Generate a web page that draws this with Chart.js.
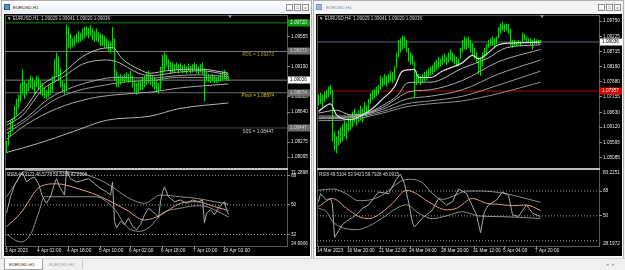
<!DOCTYPE html>
<html><head><meta charset="utf-8">
<script src="https://cdn.jsdelivr.net/npm/chart.js@4.4.0/dist/chart.umd.min.js"></script>
<style>
*{box-sizing:border-box}
html,body{margin:0;padding:0;width:625px;height:270px;overflow:hidden;background:#f0f0f0;font-family:"Liberation Sans",Arial,sans-serif}
.abs{position:absolute}
.win{position:absolute;top:0;height:259px;background:#f6f6f6;border:1px solid #b0b0b0}
.tb{position:absolute;top:1px;height:12px;background:linear-gradient(#ffffff,#e8eef7)}
.ttl{position:absolute;top:5px;font-size:4.4px;line-height:5px;white-space:nowrap}
.ico{position:absolute;top:4px;width:6px;height:6px;background:#5c8fcc;border:1px solid #2b5d99}
.btn{position:absolute;top:4px;width:7px;height:7px;border:1px solid #8c8c8c;background:#fbfbfb;font-size:4px;line-height:5px;text-align:center;color:#222}
.blk{position:absolute;top:14px;width:306px;height:242px;background:#000}
.frame{position:absolute;top:15px;width:283px;height:232px;border:1px solid #5a5a5a}
.sep{position:absolute;top:168px;width:283px;height:2px;background:#bdbdbd}
.hdr{position:absolute;font-size:4.5px;line-height:5px;color:#d8d8d8;white-space:nowrap}
.mark{position:absolute;top:15px;width:0;height:0;border-left:2px solid transparent;border-right:2px solid transparent;border-top:3px solid #9aa0b0}
canvas{position:absolute}
</style></head><body>

<div class="win" style="left:1px;width:311px"></div>
<div class="tb" style="left:2px;width:309px"></div>
<div class="ico" style="left:4px"></div>
<div class="ttl" style="left:13px;color:#1a1a1a">EURUSD,H1</div>
<div class="btn" style="left:286px">_</div>
<div class="btn" style="left:294px">□</div>
<div class="btn" style="left:302px">x</div>
<div class="blk" style="left:4px"></div>
<div class="frame" style="left:5px"></div>
<div class="sep" style="left:5px"></div>

<div class="win" style="left:313px;width:311px"></div>
<div class="tb" style="left:314px;width:309px;background:#f4f4f4"></div>
<div class="ico" style="left:316px;opacity:.6"></div>
<div class="ttl" style="left:326px;color:#8a8a8a">EURUSD,H4</div>
<div class="btn" style="left:598px">_</div>
<div class="btn" style="left:606px">□</div>
<div class="btn" style="left:614px">x</div>
<div class="blk" style="left:316px"></div>
<div class="frame" style="left:317px"></div>
<div class="sep" style="left:317px"></div>

<canvas id="lm" width="305" height="153" style="left:5px;top:15px"></canvas>
<canvas id="lr" width="305" height="86" style="left:5px;top:170px"></canvas>
<canvas id="rm" width="305" height="153" style="left:317px;top:15px"></canvas>
<canvas id="rr" width="305" height="86" style="left:317px;top:170px"></canvas>

<div class="hdr" style="left:7px;top:16px">▼ EURUSD,H1&nbsp; 1.09029 1.09041 1.09020 1.09036</div>
<div class="hdr" style="left:7px;top:172px">RSI8 44.3123 46.5778 50.5160 42.6308</div>
<div class="hdr" style="left:319px;top:16px">▼ EURUSD,H4&nbsp; 1.09029 1.09041 1.09020 1.09036</div>
<div class="hdr" style="left:319px;top:172px">RSI8 49.5104 53.9423 59.7928 48.0915</div>
<div class="mark" style="left:228px"></div>
<div class="mark" style="left:540px"></div>

<div class="abs" style="left:0;top:258px;width:625px;height:12px;background:#f0f0f0;border-top:1px solid #d4d4d4"></div>
<div class="abs" style="left:4px;top:259px;width:39px;height:11px;background:#fff;border:1px solid #a0a0a0;border-top:none"></div>
<div class="abs" style="left:9px;top:262px;font-size:4.4px;line-height:5px;color:#222">EURUSD,H1</div>
<div class="abs" style="left:49px;top:262px;font-size:4.4px;line-height:5px;color:#9a9a9a">EURUSD,H4</div>
<div class="abs" style="left:82px;top:260px;width:1px;height:9px;background:#c8c8c8"></div>
<div class="abs" style="left:606px;top:261px;font-size:5px;line-height:6px;color:#a0a0a0">◂&nbsp;&nbsp;▸</div>

<script>
// ---------------- DATA ----------------
const L_HIGH = [1.0829,1.0840,1.0854,1.0857,1.0872,1.0880,1.0885,1.0899,1.0916,1.0902,
1.0899,1.0903,1.0908,1.0906,1.0902,1.0908,1.0906,1.0902,1.0899,1.0894,
1.0891,1.0897,1.0899,1.0908,1.0928,1.0936,1.0931,1.0917,1.0902,1.0899,
1.0970,1.0967,1.0959,1.0953,1.0956,1.0959,1.0962,1.0960,1.0965,1.0967,
1.0968,1.0966,1.0969,1.0965,1.0962,1.0965,1.0961,1.0959,1.0958,1.0956,
1.0953,1.0951,1.0949,1.0967,1.0953,1.0914,1.0908,1.0910,1.0908,1.0910,
1.0912,1.0910,1.0914,1.0908,1.0902,1.0899,1.0901,1.0903,1.0906,1.0908,
1.0911,1.0914,1.0910,1.0908,1.0906,1.0902,1.0899,1.0919,1.0933,1.0936,
1.0933,1.0928,1.0925,1.0924,1.0922,1.0924,1.0922,1.0923,1.0920,1.0922,
1.0919,1.0923,1.0920,1.0922,1.0924,1.0922,1.0919,1.0922,1.0924,1.0917,
1.0914,1.0910,1.0908,1.0910,1.0908,1.0906,1.0908,1.0910,1.0914,1.0915,
1.0912,1.0908];
const L_LOW = [1.0814,1.0823,1.0834,1.0840,1.0854,1.0860,1.0868,1.0876,1.0885,1.0880,
1.0885,1.0889,1.0893,1.0891,1.0885,1.0894,1.0891,1.0885,1.0883,1.0881,
1.0880,1.0882,1.0885,1.0888,1.0899,1.0908,1.0902,1.0894,1.0889,1.0885,
1.0889,1.0942,1.0940,1.0942,1.0944,1.0948,1.0948,1.0949,1.0951,1.0953,
1.0956,1.0953,1.0956,1.0951,1.0949,1.0950,1.0948,1.0944,1.0944,1.0942,
1.0940,1.0937,1.0935,1.0940,1.0902,1.0894,1.0894,1.0897,1.0899,1.0899,
1.0901,1.0899,1.0900,1.0894,1.0888,1.0885,1.0888,1.0890,1.0891,1.0894,
1.0897,1.0899,1.0897,1.0894,1.0891,1.0888,1.0886,1.0891,1.0902,1.0914,
1.0919,1.0914,1.0910,1.0912,1.0912,1.0915,1.0911,1.0914,1.0911,1.0912,
1.0910,1.0914,1.0911,1.0912,1.0914,1.0911,1.0910,1.0912,1.0910,1.0877,
1.0901,1.0900,1.0899,1.0901,1.0899,1.0899,1.0900,1.0901,1.0902,1.0903,
1.0902,1.0902];
const L_MA1 = [[0,1.0851],[8,1.0865],[18,1.0897],[28,1.0911],[38,1.0931],[46,1.0940],[53,1.0942],[58,1.0928],[66,1.0916],[72,1.0911],[80,1.0914],[97,1.0916],[111,1.0911]];
const L_MA2 = [[0,1.0848],[8,1.0860],[18,1.0891],[28,1.0906],[38,1.0922],[50,1.0927],[55,1.0925],[66,1.0911],[72,1.0908],[85,1.0912],[97,1.0914],[111,1.0909]];
const L_MA3 = [[0,1.0842],[10,1.0857],[21,1.0880],[33,1.0894],[50,1.0905],[55,1.0906],[72,1.0905],[85,1.0908],[97,1.0909],[111,1.0907]];
const L_MA4 = [[0,1.0831],[10,1.0849],[25,1.0868],[41,1.0880],[55,1.0885],[72,1.0888],[86,1.0893],[111,1.0898]];
const L_MA5 = [[0,1.0815],[16,1.0826],[33,1.0840],[50,1.0854],[72,1.0859],[86,1.0868],[111,1.0875]];
const L_MA6 = [[0,1.0838],[10,1.0854],[22,1.0876],[33,1.0888],[50,1.0897],[62,1.0901],[72,1.0902],[86,1.0906],[111,1.0905]];
const L_PRICE_TICKS = [1.09735,1.09555,1.09190,1.08825,1.08640,1.08275,1.08095];
const L_PRICE_RANGE = [1.08083,1.09815];
const L_LEVELS = [1.09720,1.09373,1.09026,1.08874,1.08447];
const L_LEVEL_NAMES = ['R0S = 1.09373','Pivot = 1.08874','S0S = 1.08447'];
const L_LEVEL_NAME_VALUES = [1.09373,1.08874,1.08447];
const L_TIME_POS = [0,16,31,47,62,78,94,109];
const L_TIME_LBL = ['3 Apr 2023','4 Apr 02:00','4 Apr 18:00','5 Apr 10:00','6 Apr 02:00','6 Apr 18:00','7 Apr 10:00','10 Apr 02:00'];
const L_RSI = [[0,45],[2,55],[4,62],[6,66],[8,70],[10,64],[12,66],[14,67],[16,63],[18,55],[20,51],[22,55],[24,63],[25,66],[27,60],[29,56],[30,71],[32,66],[35,64],[38,65],[41,66],[44,63],[47,60],[50,58],[52,56],[53,64],[54,40],[55,36],[57,40],[59,38],[61,42],[63,37],[65,35],[67,38],[69,44],[71,48],[73,46],[75,44],[76,42],[77,52],[78,58],[79,61],[81,55],[84,52],[87,53],[90,51],[93,53],[96,52],[98,53],[99,39],[100,45],[102,47],[104,44],[106,48],[108,51],[109,52],[110,47],[111,44.31]];
const L_RSI_MA = [[0,36.7],[7,44.9],[17,61.3],[25,62.9],[35,60.2],[47,55.1],[60,46.9],[69,40.8],[77,43.9],[87,51],[95,52],[104,49],[111,46.58]];
const L_RSI_UP = [[0,55],[5,64],[8,70],[12,71],[25,70.5],[38,69],[47,65],[53,61],[60,55],[69,51],[77,56],[87,55],[95,54],[104,52],[111,50.52]];
const L_RSI_DN = [[0,32],[7,27.5],[12,32],[16,45],[19,55],[30,55],[45,55],[50,52],[55,46],[58,40],[62,35],[67,34],[72,37],[78,45],[87,48],[95,49.5],[100,49],[104,47],[111,42.63]];
const L_RSI_RANGE = [24.9906,71.2898];
const RSI_LEVELS = [68,50,32];
const L_RSI_TICKS = [68,50,32];

const R_HIGH = [1.0724,1.0730,1.0724,1.0734,1.0740,1.0750,1.0756,1.0740,1.0596,1.0580,
1.0602,1.0612,1.0622,1.0634,1.0628,1.0644,1.0654,1.0666,1.0676,1.0660,
1.0670,1.0686,1.0676,1.0698,1.0686,1.0708,1.0730,1.0740,1.0743,1.0750,
1.0756,1.0788,1.0782,1.0794,1.0788,1.0794,1.0804,1.0801,1.0820,1.0868,
1.0910,1.0916,1.0926,1.0922,1.0910,1.0884,1.0868,1.0858,1.0836,1.0804,
1.0794,1.0788,1.0794,1.0801,1.0807,1.0814,1.0820,1.0826,1.0836,1.0842,
1.0852,1.0846,1.0858,1.0865,1.0852,1.0868,1.0878,1.0868,1.0858,1.0852,
1.0846,1.0884,1.0910,1.0922,1.0916,1.0922,1.0910,1.0900,1.0884,1.0868,
1.0852,1.0846,1.0868,1.0884,1.0897,1.0910,1.0916,1.0922,1.0916,1.0922,
1.0954,1.0967,1.0974,1.0964,1.0967,1.0964,1.0948,1.0910,1.0910,1.0906,
1.0910,1.0906,1.0935,1.0932,1.0922,1.0916,1.0916,1.0910,1.0916,1.0913,
1.0910,1.0910];
const R_LOW = [1.0686,1.0692,1.0679,1.0698,1.0708,1.0714,1.0724,1.0564,1.0532,1.0522,
1.0548,1.0558,1.0564,1.0580,1.0570,1.0596,1.0602,1.0612,1.0628,1.0618,
1.0628,1.0634,1.0628,1.0654,1.0644,1.0660,1.0692,1.0705,1.0711,1.0718,
1.0724,1.0740,1.0750,1.0756,1.0750,1.0762,1.0769,1.0762,1.0772,1.0814,
1.0852,1.0868,1.0878,1.0884,1.0868,1.0836,1.0826,1.0826,1.0714,1.0756,
1.0762,1.0756,1.0762,1.0769,1.0772,1.0782,1.0788,1.0794,1.0801,1.0807,
1.0814,1.0820,1.0826,1.0833,1.0826,1.0833,1.0839,1.0833,1.0826,1.0820,
1.0820,1.0846,1.0868,1.0878,1.0878,1.0884,1.0868,1.0858,1.0846,1.0833,
1.0794,1.0788,1.0820,1.0846,1.0858,1.0884,1.0890,1.0890,1.0884,1.0897,
1.0916,1.0932,1.0942,1.0938,1.0942,1.0932,1.0890,1.0884,1.0890,1.0890,
1.0894,1.0890,1.0900,1.0910,1.0903,1.0900,1.0894,1.0878,1.0897,1.0897,
1.0897,1.0900];
const R_MA1 = [[0,1.0666],[6,1.0692],[9,1.0654],[16,1.0638],[22,1.0654],[27,1.0676],[32,1.0708],[38,1.0750],[42,1.0804],[48,1.0810],[50,1.0782],[56,1.0782],[62,1.0804],[72,1.0833],[77,1.0858],[80,1.0846],[84,1.0862],[90,1.0894],[97,1.0900],[111,1.0903]];
const R_MA2 = [[0,1.0660],[9,1.0670],[16,1.0654],[24,1.0660],[32,1.0686],[40,1.0724],[44,1.0762],[49,1.0766],[56,1.0766],[72,1.0814],[84,1.0846],[94,1.0884],[111,1.0894]];
const R_MA3 = [[0,1.0650],[16,1.0650],[32,1.0679],[44,1.0730],[49,1.0737],[56,1.0740],[72,1.0772],[90,1.0836],[111,1.0878]];
const R_MA4 = [[0,1.0644],[16,1.0647],[32,1.0673],[44,1.0708],[56,1.0718],[72,1.0740],[90,1.0794],[111,1.0842]];
const R_MA5 = [[0,1.0641],[16,1.0644],[32,1.0666],[44,1.0692],[56,1.0702],[72,1.0718],[90,1.0756],[111,1.0804]];
const R_MA6 = [[0,1.0634],[16,1.0638],[32,1.0660],[44,1.0682],[56,1.0692],[72,1.0702],[90,1.0727],[111,1.0766]];
const R_PRICE_TICKS = [1.09750,1.09225,1.08715,1.08190,1.07680,1.07155,1.06630,1.06120,1.05595,1.05085];
const R_PRICE_RANGE = [1.05064,1.09960];
const R_LEVELS = [1.09036,1.07357];
const R_TIME_POS = [0,15,31,46,62,78,93,109];
const R_TIME_LBL = ['14 Mar 2023','16 Mar 20:00','21 Mar 12:00','24 Mar 04:00','28 Mar 20:00','31 Mar 12:00','5 Apr 04:00','7 Apr 20:00'];
const R_RSI = [[0,60.2],[1,66.1],[4,61.4],[6,62.6],[7,58],[8,34.4],[9,36.7],[12,43.8],[14,46.1],[19,50.8],[22,55.5],[25,57.9],[30,67.3],[35,66.1],[39,76.7],[41,80.2],[43,73.2],[45,60.2],[47,44.9],[48,42],[52,48.5],[57,54.4],[60,62.6],[64,57.9],[67,60.2],[70,69.6],[74,66.1],[79,50.8],[81,37.9],[83,53.2],[85,57.9],[89,61.4],[92,67.3],[95,64.9],[97,50.8],[100,49.6],[104,57.9],[107,52.0],[111,49.51]];
const R_RSI_MA = [[0,56.7],[7,62.6],[14,55.5],[20,49.6],[25,48.0],[30,50.8],[37,59.1],[44,68.5],[49,66.1],[55,60.2],[64,54.4],[69,55.5],[77,62.6],[84,59.1],[90,58.4],[97,57.4],[104,57.9],[111,53.94]];
const R_RSI_UP = [[0,68.5],[7,69.5],[14,66],[20,61],[27,62],[33,66],[41,75],[46,76.5],[52,74],[57,66],[62,62],[67,64],[74,68],[81,68],[87,67.5],[94,66],[100,64],[111,59.79]];
const R_RSI_DN = [[0,55.5],[4,53],[7,46],[12,41.5],[19,40],[25,42.5],[32,48.5],[39,55.5],[44,58],[50,52],[57,48],[64,50],[72,53],[80,50],[90,49.5],[100,49],[111,48.09]];
const R_RSI_RANGE = [28.1972,83.2251];
const R_RSI_TICKS = [68,50];

// ---------------- STYLE / BUILD ----------------
const X_MIN = -0.75, X_MAX = 140.25;
const FAM = '"Liberation Sans", Arial, sans-serif';
const FONT = {family: FAM, size: 4.7};
const TXT = '#e4e4e4';
Chart.defaults.font.family = FAM;

const pts = arr => arr.map(p => ({x: p[0], y: p[1]}));
const line = (arr, color, w, smooth) => ({type:'line', data: pts(arr), borderColor: color, borderWidth: w||1,
  pointRadius: 0, tension: smooth ? 0.4 : 0, cubicInterpolationMode: smooth ? 'monotone' : 'default', fill: false});
const hline = (v, color, dash) => ({type:'line', data: [{x: X_MIN, y: v}, {x: X_MAX, y: v}], borderColor: color,
  borderWidth: 1, borderDash: dash || [], pointRadius: 0, fill: false});
const bars = (hi, lo, color) => ({type:'bar', data: hi.map((h, i) => ({x: i, y: [lo[i], h]})), backgroundColor: color,
  borderWidth: 0, barThickness: 1, inflateAmount: 0, grouped: false});

function yAxis(range, ticks, fmt) {
  return {type:'linear', position:'right', min: range[0], max: range[1],
    afterBuildTicks: s => { s.ticks = ticks.map(v => ({value: v})); },
    afterFit: s => { s.width = 23; s.paddingTop = 0; s.paddingBottom = 0; s.paddingLeft = 0; s.paddingRight = 0; },
    grid: {display: true, drawOnChartArea: false, drawTicks: true, tickLength: 3, color: '#8a8a8a'},
    border: {display: false},
    ticks: {padding: 1, color: TXT, font: FONT, autoSkip: false, callback: fmt}};
}
function xAxis(show, pos, lbl) {
  return {type:'linear', min: X_MIN, max: X_MAX, offset: false, display: show,
    afterBuildTicks: s => { s.ticks = (pos || []).map(v => ({value: v})); },
    afterFit: s => { s.height = 10; s.paddingLeft = 0; s.paddingRight = 0; s.paddingTop = 0; s.paddingBottom = 0; },
    grid: {display: true, drawOnChartArea: false, drawTicks: true, tickLength: 2, color: '#8a8a8a'},
    border: {display: false},
    ticks: {align: 'start', padding: 0, labelOffset: -1.5, maxRotation: 0, minRotation: 0, autoSkip: false,
      color: TXT, font: FONT, callback: v => lbl ? lbl[pos.indexOf(v)] : ''}};
}

const annot = {
  id: 'annot',
  afterDraw(chart, args, o) {
    const {ctx, chartArea: a, scales: {x, y}} = chart;
    ctx.save();
    ctx.font = FONT.size + 'px ' + FAM;
    ctx.textAlign = 'left';
    (o.texts || []).forEach(t => {
      ctx.fillStyle = t.color; ctx.textBaseline = 'top';
      ctx.fillText(t.text, x.getPixelForValue(t.i), y.getPixelForValue(t.v) + 1);
    });
    (o.boxes || []).forEach(b => {
      const py = Math.round(y.getPixelForValue(b.v));
      ctx.fillStyle = b.bg; ctx.fillRect(a.right + 1, py - 3.5, 22, 7);
      ctx.fillStyle = b.fg; ctx.textBaseline = 'middle';
      ctx.fillText(b.v.toFixed(5), a.right + 3, py);
    });
    if (o.edge) {
      ctx.fillStyle = TXT;
      ctx.textBaseline = 'top'; ctx.fillText(String(y.max), a.right + 4, a.top);
      ctx.textBaseline = 'bottom'; ctx.fillText(String(y.min), a.right + 4, a.bottom + 0.5);
    }
    ctx.restore();
  }
};

function mkChart(id, datasets, scales, annotOpts) {
  return new Chart(document.getElementById(id), {
    type: 'line',
    data: {datasets},
    options: {responsive: false, animation: false, devicePixelRatio: 1, events: [],
      layout: {padding: 0, autoPadding: false},
      scales,
      plugins: {legend: {display: false}, tooltip: {enabled: false}, annot: annotOpts}},
    plugins: [annot]
  });
}

const CANDLE = '#0ad40a';
const fmtP = v => v.toFixed(5);
const fmtR = v => String(v);

// Left H1 price pane
mkChart('lm', [
  line(L_MA1, '#bdbdbd', 1, true), line(L_MA2, '#adadad', 1, true), line(L_MA3, '#a0a0a0', 1, true),
  line(L_MA6, '#949494', 1, true), line(L_MA4, '#a8a8a8', 1, true), line(L_MA5, '#b4b4b4', 1, true),
  bars(L_HIGH, L_LOW, CANDLE),
  hline(L_LEVELS[0], '#0a8a0a'), hline(L_LEVELS[1], '#7c7c7c'), hline(L_LEVELS[2], '#808080'),
  hline(L_LEVELS[3], '#6a6a6a'), hline(L_LEVELS[4], '#4a4a4a')
], {x: xAxis(false), y: yAxis(L_PRICE_RANGE, L_PRICE_TICKS, fmtP)}, {
  texts: [
    {i: 118, v: L_LEVEL_NAME_VALUES[0], text: L_LEVEL_NAMES[0], color: '#a0a030'},
    {i: 117.5, v: L_LEVEL_NAME_VALUES[1], text: L_LEVEL_NAMES[1], color: '#d8c400'},
    {i: 118, v: L_LEVEL_NAME_VALUES[2], text: L_LEVEL_NAMES[2], color: '#d0d0d0'}],
  boxes: [
    {v: L_LEVELS[0], bg: '#0a9a0a', fg: '#d8ffd8'}, {v: L_LEVELS[1], bg: '#6c6c6c', fg: '#d0d0d0'},
    {v: L_LEVELS[2], bg: '#ffffff', fg: '#000000'}, {v: L_LEVELS[3], bg: '#6c6c6c', fg: '#d0d0d0'},
    {v: L_LEVELS[4], bg: '#6c6c6c', fg: '#d0d0d0'}]
});

// Left RSI pane
mkChart('lr', [
  line(L_RSI, '#a8a8a8', 1, false), line(L_RSI_MA, '#d9a08c', 1, true),
  line(L_RSI_UP, '#8e8e8e', 1, true), line(L_RSI_DN, '#8e8e8e', 1, true),
  hline(RSI_LEVELS[0], '#9a9a9a', [1, 2]), hline(RSI_LEVELS[1], '#9a9a9a', [1, 2]), hline(RSI_LEVELS[2], '#9a9a9a', [1, 2])
], {x: xAxis(true, L_TIME_POS, L_TIME_LBL), y: yAxis(L_RSI_RANGE, L_RSI_TICKS, fmtR)}, {edge: true});

// Right H4 price pane
mkChart('rm', [
  line(R_MA1, '#dcdcdc', 1.2, true), line(R_MA2, '#b8b8b8', 1, true), line(R_MA3, '#a8a8a8', 1, true),
  line(R_MA4, '#a0a0a0', 1, true), line(R_MA5, '#989898', 1, true), line(R_MA6, '#909090', 1, true),
  bars(R_HIGH, R_LOW, CANDLE),
  hline(R_LEVELS[0], '#5e6678'), hline(R_LEVELS[1], '#b00000')
], {x: xAxis(false), y: yAxis(R_PRICE_RANGE, R_PRICE_TICKS, fmtP)}, {
  boxes: [{v: R_LEVELS[0], bg: '#ffffff', fg: '#000000'}, {v: R_LEVELS[1], bg: '#e00000', fg: '#ffffff'}]
});

// Right RSI pane
mkChart('rr', [
  line(R_RSI, '#a8a8a8', 1, false), line(R_RSI_MA, '#d9a08c', 1, true),
  line(R_RSI_UP, '#8e8e8e', 1, true), line(R_RSI_DN, '#8e8e8e', 1, true),
  hline(RSI_LEVELS[0], '#9a9a9a', [1, 2]), hline(RSI_LEVELS[1], '#9a9a9a', [1, 2]), hline(RSI_LEVELS[2], '#9a9a9a', [1, 2])
], {x: xAxis(true, R_TIME_POS, R_TIME_LBL), y: yAxis(R_RSI_RANGE, R_RSI_TICKS, fmtR)}, {edge: true});
</script>
</body></html>
